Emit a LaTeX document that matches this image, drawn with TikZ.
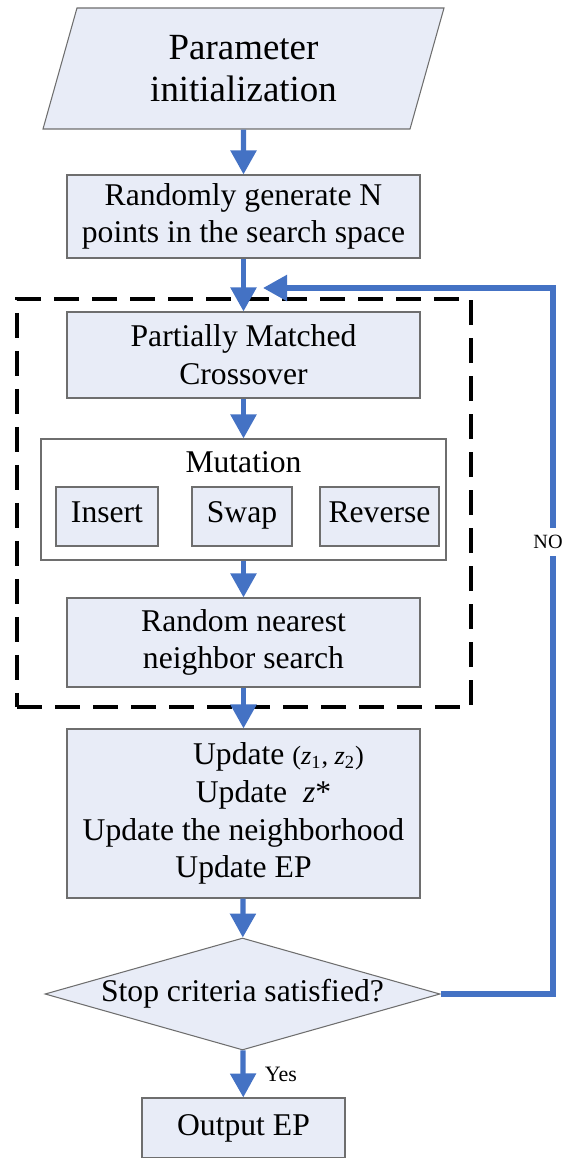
\documentclass[tikz,border=0pt]{standalone}
\usepackage{fontspec}
\setmainfont{Liberation Serif}
\usepackage{tikz}
\usetikzlibrary{arrows.meta, shapes.geometric}
\definecolor{flowblue}{HTML}{4472C4}
\definecolor{boxfill}{HTML}{E8ECF7}
\definecolor{boxline}{HTML}{6E6E6E}

\begin{document}
\begin{tikzpicture}[
  proc/.style={
    draw=boxline, fill=boxfill, line width=0.6pt, inner sep=0pt,
    minimum width=7.06cm, align=center,
    font=\fontsize{18}{21.5}\selectfont
  },
  io/.style={proc, trapezium, trapezium left angle=63, trapezium right angle=117,
    trapezium stretches body, minimum width=8.02cm, minimum height=2.42cm,
    font=\fontsize{21}{24}\selectfont},
  op/.style={proc, minimum width=2.04cm, minimum height=1.18cm,
    text height=0.95em, text depth=0.22em},
  frame/.style={draw=boxline, fill=white, line width=0.6pt,
    minimum width=8.1cm, minimum height=2.42cm},
  group/.style={draw=black, line width=1.8pt, dash pattern=on 0.5cm off 0.26cm,
    minimum width=9.08cm, minimum height=8.16cm},
  decision/.style={proc, diamond, minimum width=7.9cm, minimum height=2.24cm},
  flow/.style={-{Triangle[length=0.48cm, width=0.5cm]}, line width=3pt, flowblue},
  tag/.style={font=\fontsize{12.5}{14}\selectfont, text=black, inner sep=1pt},
]
\useasboundingbox (0,0) rectangle (11.32,-23.16);

% Dashed group
\node[group] (gbox) at (4.88, -10.06) {};

% Main steps
\node[io]   (init)   at (4.87, -1.37)  {Parameter\\initialization};
\node[proc, minimum height=1.66cm] (rand) at (4.87, -4.33)
  {Randomly generate N\\points in the search space};
\node[proc, minimum height=1.72cm] (pmx) at (4.87, -7.10)
  {Partially Matched\\Crossover};

% Mutation block
\node[frame] (mut) at (4.87, -9.99) {};
\node[font=\fontsize{18}{21.5}\selectfont] (mutlbl) at (4.87, -9.24) {Mutation};
\node[op] (insert)  at (2.14, -10.33) {Insert};
\node[op, minimum width=2.0cm]  (swap)    at (4.84, -10.33) {Swap};
\node[op, minimum width=2.38cm] (reverse) at (7.59, -10.33) {Reverse};

\node[proc, minimum height=1.78cm] (rnn) at (4.87, -12.85)
  {Random nearest\\neighbor search};
\node[proc, minimum height=3.38cm] (upd) at (4.87, -16.27)
  {\hspace*{1.4cm}Update {\fontsize{15}{21}\selectfont(\textit{z}\textsubscript{1}, \textit{z}\textsubscript{2})}\\
   \hspace*{0.8cm}Update\ \ \textit{z}*\\
   Update the neighborhood\\
   Update EP};
\node[decision] (stop) at (4.85, -19.88) {\makebox[0pt]{Stop criteria satisfied?}};
\node[proc, minimum width=4.06cm, minimum height=1.2cm] (out) at (4.87, -22.56) {Output EP};

% Flow arrows
\draw[flow] (init) -- (rand);
\draw[flow] (rand) -- (pmx);
\draw[flow] (pmx)  -- (mut);
\draw[flow] (mut)  -- (rnn);
\draw[flow] (rnn)  -- (upd);
\draw[flow] (upd)  -- (stop);
\draw[flow] (stop) -- (out) node[midway, right=0.35cm, tag] {Yes};

% Loop back
\coordinate (loopcorner) at (11.06, -5.76);
\coordinate (loopin) at (5.26, -5.76);
\draw[flow] (stop.east) -| (loopcorner)
  node[pos=0.82, tag, fill=white, inner ysep=4pt, inner xsep=0pt,
       font=\fontsize{11.5}{13}\selectfont, xshift=-0.1cm] {NO} -- (loopin);

\end{tikzpicture}
\end{document}
